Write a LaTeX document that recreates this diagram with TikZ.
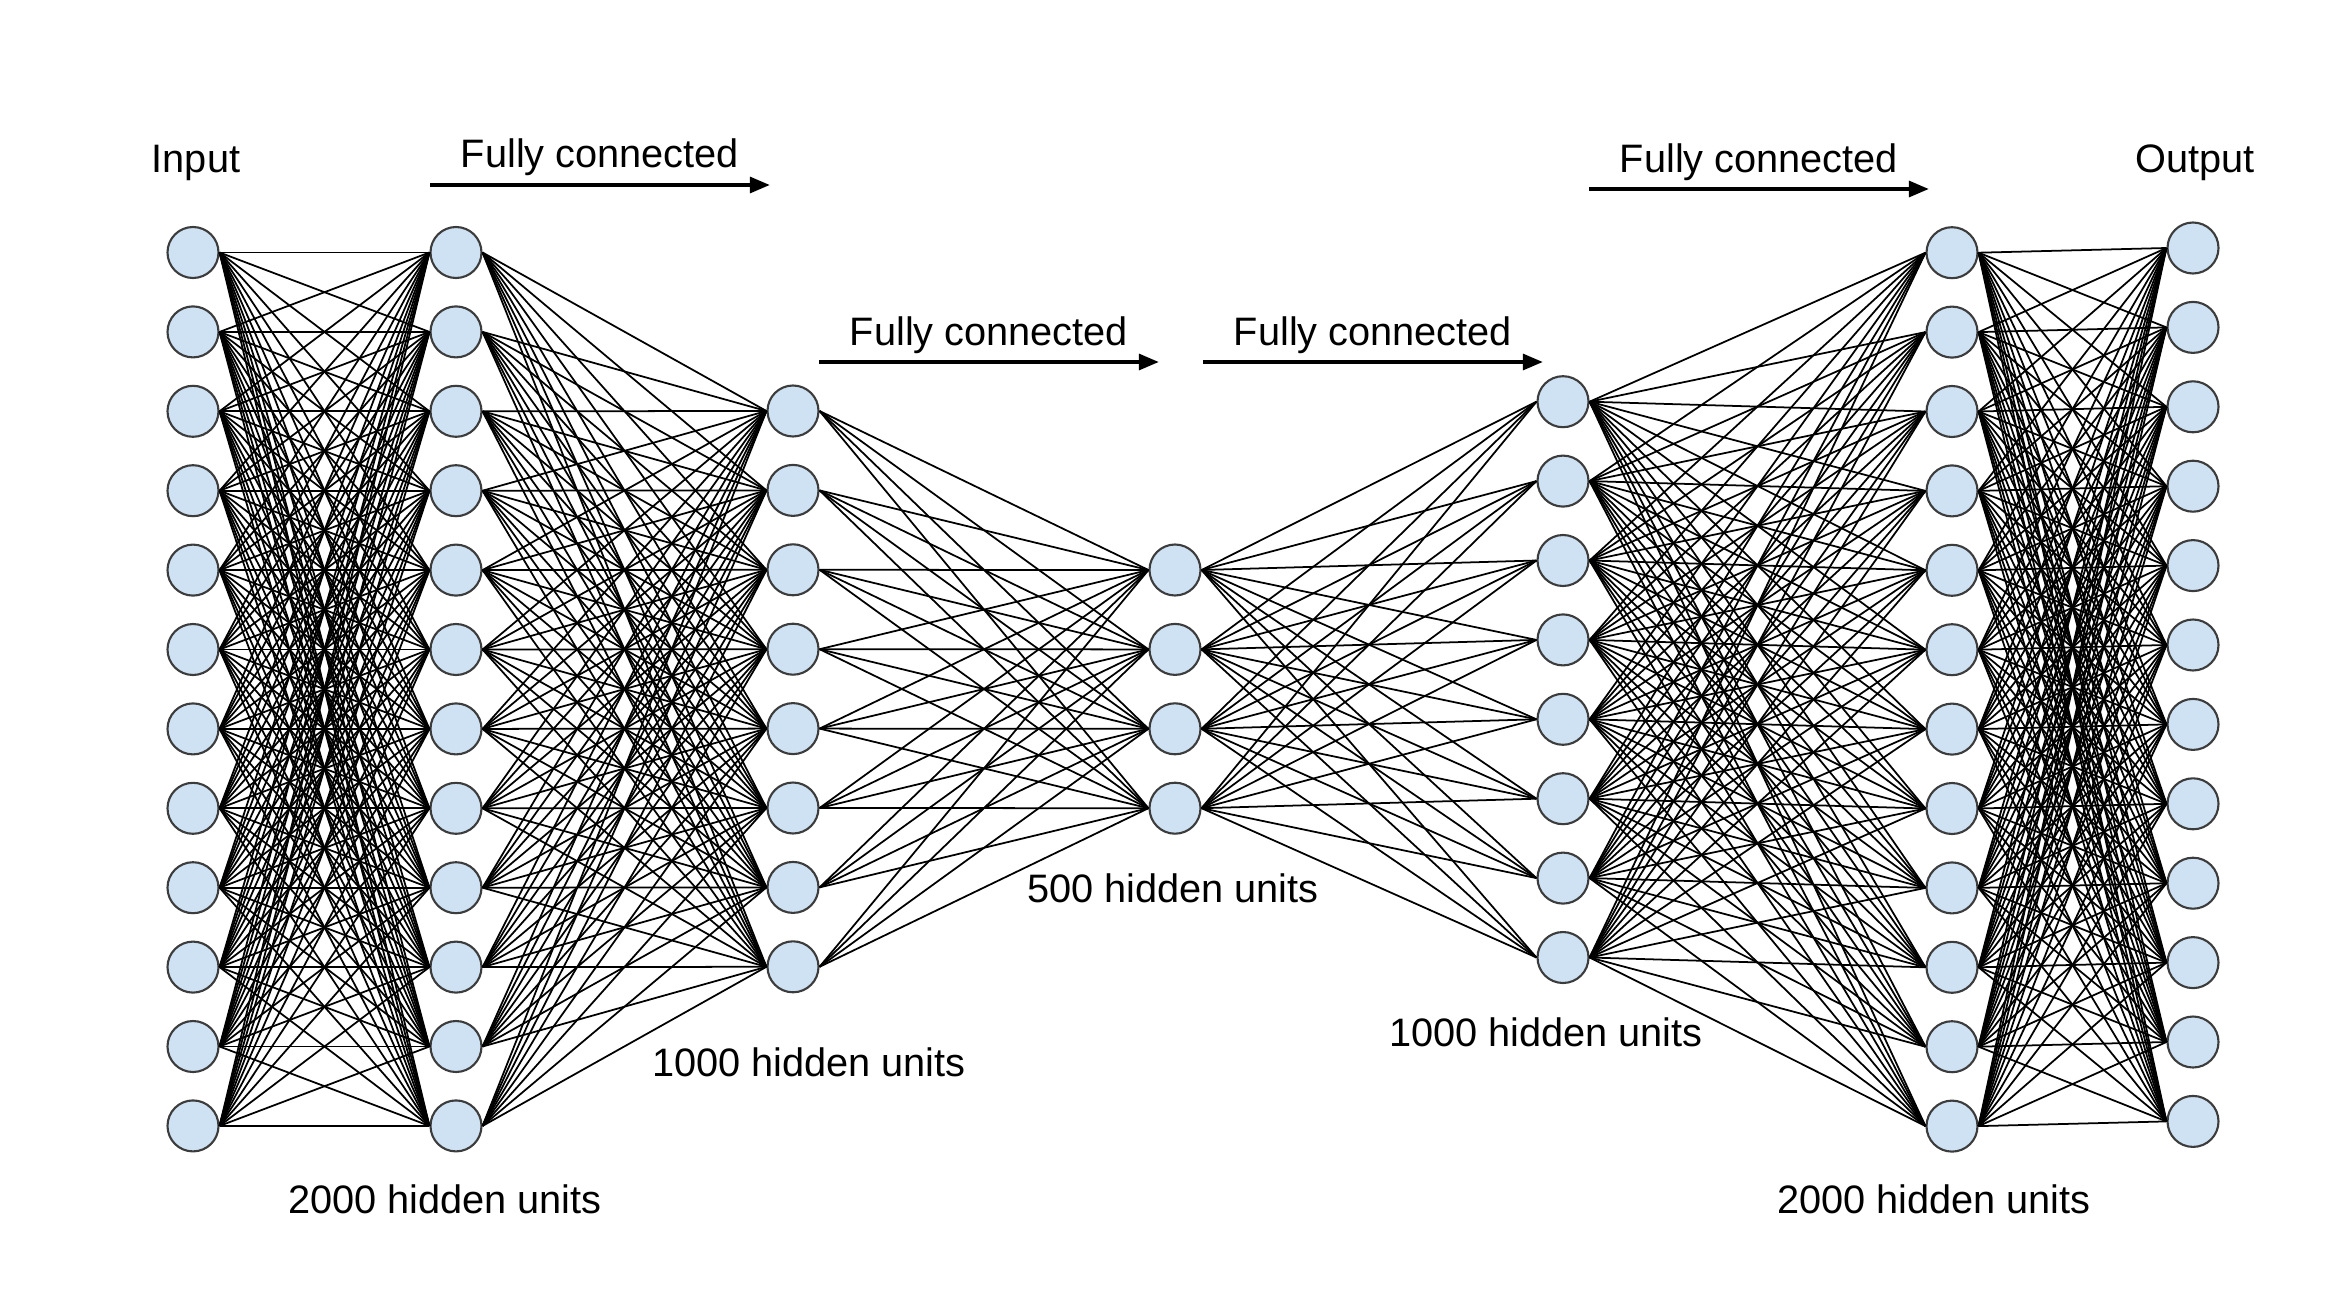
\documentclass[tikz,border=0pt]{standalone}
\usepackage{fontspec}
\setmainfont{Liberation Sans}
\usepackage{tikz}
\usetikzlibrary{arrows.meta}

\definecolor{unitblue}{HTML}{CFE2F3}
\definecolor{unitline}{HTML}{3C3C3C}

\begin{document}
\begin{tikzpicture}[
    unit/.style = {circle, draw=unitline, line width=0.6pt, fill=unitblue,
                   minimum size=0.51cm, inner sep=0pt},
    wire/.style = {line width=0.5pt, black},
    label/.style = {anchor=base, inner sep=0pt, font=\fontsize{11.3}{13}\selectfont},
    arrow/.style = {-{Triangle[length=0.2cm, width=0.16cm]}, line width=0.95pt}
]
\useasboundingbox (0,0) rectangle (23.29,12.89);

% Layers: name / x / y of top unit / number of units
\foreach \name/\x/\top/\n in {in/1.93/10.365/12, ha/4.56/10.365/12, hb/7.93/8.78/8,
    hc/11.75/7.19/4, hd/15.63/8.873/8, he/19.52/10.363/12, out/21.93/10.41/12}
  \foreach \i in {1,...,\n}
    \node[unit] (\name\i) at ({\x}, {\top-0.794*(\i-1)}) {};

% Fully connected between neighbouring layers
\foreach \a/\na/\b/\nb in {in/12/ha/12, ha/12/hb/8, hb/8/hc/4,
    hc/4/hd/8, hd/8/he/12, he/12/out/12}
  \foreach \i in {1,...,\na}
    \foreach \j in {1,...,\nb}
      \draw[wire] (\a\i.east) -- (\b\j.west);

% Labels
\node[label] (input)  at (1.96, 11.16) {Input};
\node[label] (output) at (21.95, 11.16) {Output};
\node[label] (fc1) at (6.00, 11.21) {Fully connected};
\node[label] (fc2) at (9.89, 9.44) {Fully connected};
\node[label] (fc3) at (13.73, 9.44) {Fully connected};
\node[label] (fc4) at (17.59, 11.17) {Fully connected};
\node[label] (code) at (11.73, 3.87) {500 hidden units};
\node[label] (encb) at (8.09, 2.13) {1000 hidden units};
\node[label] (decb) at (15.46, 2.43) {1000 hidden units};
\node[label] (enca) at (4.45, 0.76) {2000 hidden units};
\node[label] (deca) at (19.34, 0.76) {2000 hidden units};

% Arrows under the "Fully connected" labels
\foreach \fc in {fc1, fc2, fc3, fc4}
  \draw[arrow] ([shift={(-0.3,-0.17)}]\fc.base west) -- ([shift={(0.3,-0.17)}]\fc.base east);

\end{tikzpicture}
\end{document}
